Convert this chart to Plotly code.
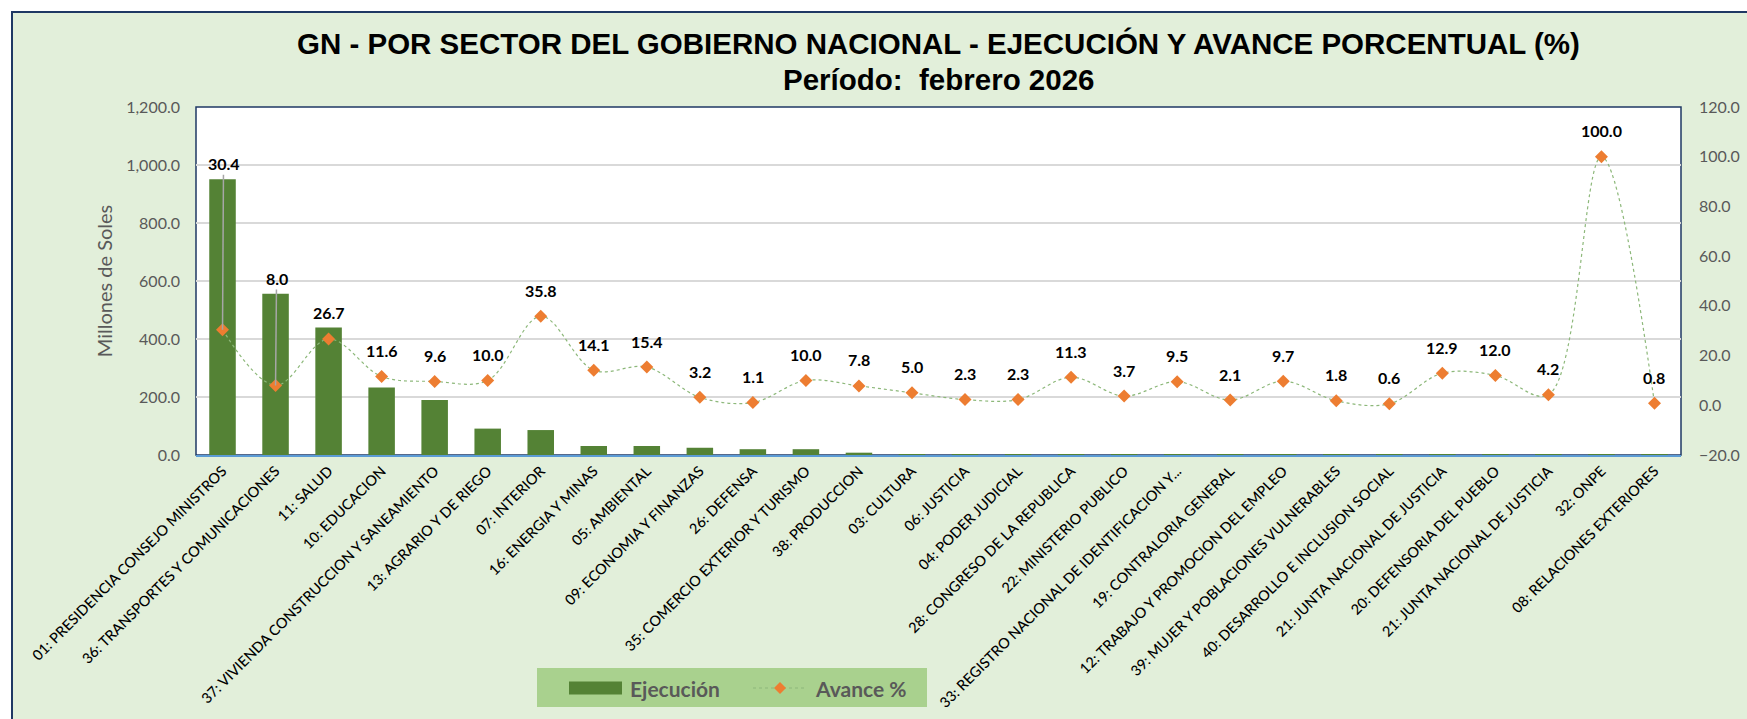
import plotly.graph_objects as go

categories = [
    "01: PRESIDENCIA CONSEJO MINISTROS",
    "36: TRANSPORTES Y COMUNICACIONES",
    "11: SALUD",
    "10: EDUCACION",
    "37: VIVIENDA CONSTRUCCION Y SANEAMIENTO",
    "13: AGRARIO Y DE RIEGO",
    "07: INTERIOR",
    "16: ENERGIA Y MINAS",
    "05: AMBIENTAL",
    "09: ECONOMIA Y FINANZAS",
    "26: DEFENSA",
    "35: COMERCIO EXTERIOR Y TURISMO",
    "38: PRODUCCION",
    "03: CULTURA",
    "06: JUSTICIA",
    "04: PODER JUDICIAL",
    "28: CONGRESO DE LA REPUBLICA",
    "22: MINISTERIO PUBLICO",
    "33: REGISTRO NACIONAL DE IDENTIFICACION Y...",
    "19: CONTRALORIA GENERAL",
    "12: TRABAJO Y PROMOCION DEL EMPLEO",
    "39: MUJER Y POBLACIONES VULNERABLES",
    "40: DESARROLLO E INCLUSION SOCIAL",
    "21: JUNTA NACIONAL DE JUSTICIA",
    "20: DEFENSORIA DEL PUEBLO",
    "21: JUNTA NACIONAL DE JUSTICIA",
    "32: ONPE",
    "08: RELACIONES EXTERIORES",
]

ejecucion = [951, 556, 440, 233, 190, 91, 86, 31, 31, 25, 20, 20, 8,
             3.0, 2.5, 2.5, 2.0, 1.8, 1.5, 1.2, 1.1, 1.0, 0.8, 0.7, 0.6, 0.5, 0.4, 0.3]

avance = [30.4, 8.0, 26.7, 11.6, 9.6, 10.0, 35.8, 14.1, 15.4, 3.2, 1.1, 10.0, 7.8,
          5.0, 2.3, 2.3, 11.3, 3.7, 9.5, 2.1, 9.7, 1.8, 0.6, 12.9, 12.0, 4.2, 100.0, 0.8]

series_names = ["Ejecución", "Avance %"]
title_line1 = "GN - POR SECTOR DEL GOBIERNO NACIONAL - EJECUCIÓN Y AVANCE PORCENTUAL (%)"
title_line2 = "Período:  febrero 2026"
y_title = "Millones de Soles"
y2_title = "Porcentaje"

W, H = 1747, 719
L, R, T, B = 196, 1681, 107, 455
pw, ph = R - L, B - T


def px_x(p):
    return (p - L) / pw


def px_y(p):
    return (B - p) / ph


BAR_COLOR = "#548235"
LINE_COLOR = "#8DB87A"
MARKER_COLOR = "#ED7D31"
LEGEND_BG = "#A9D18E"
GRAY = "#595959"

xs = list(range(len(categories)))

fig = go.Figure()
fig.add_trace(go.Bar(
    x=xs, y=ejecucion, name=series_names[0],
    marker=dict(color=BAR_COLOR, line=dict(width=0)),
    yaxis="y", showlegend=False,
))
fig.add_trace(go.Scatter(
    x=xs, y=avance, name=series_names[1], yaxis="y2",
    mode="lines+markers",
    line=dict(color=LINE_COLOR, width=1.2, dash="dot", shape="spline", smoothing=1),
    marker=dict(symbol="diamond", size=10, color=MARKER_COLOR),
    showlegend=False,
))

# data labels (first two use leader lines like the original)
leaders = {0: -166, 1: -107}
annotations = []
label_font = dict(family="Lato", size=16, color="#000000")
for i, v in enumerate(avance):
    if i in leaders:
        annotations.append(dict(
            x=i, y=v, xref="x", yref="y2", text=f"<b>{v:.1f}</b>",
            showarrow=True, arrowhead=0, arrowwidth=1.5, arrowcolor="#A6A6A6",
            ax=1, ay=leaders[i], standoff=0, font=label_font,
        ))
    else:
        annotations.append(dict(
            x=i, y=v, xref="x", yref="y2", text=f"<b>{v:.1f}</b>",
            showarrow=False, yshift=26, font=label_font,
        ))

title_font = dict(family="Liberation Sans", size=29.5, color="#000000")
annotations.append(dict(
    x=0.5, y=px_y(44), xref="paper", yref="paper", text=f"<b>{title_line1}</b>",
    showarrow=False, xanchor="center", yanchor="middle", font=title_font,
))
annotations.append(dict(
    x=0.5, y=px_y(79), xref="paper", yref="paper", text=f"<b>{title_line2}</b>",
    showarrow=False, xanchor="center", yanchor="middle", font=title_font,
))

# secondary axis title: sits at the right edge, mostly outside, as in the original
annotations.append(dict(
    x=px_x(1744), y=0.5, xref="paper", yref="paper", text=y2_title,
    showarrow=False, xanchor="left", yanchor="middle", textangle=-90,
    font=dict(family="Lato", size=20, color=GRAY),
))

# legend (drawn like the Excel legend box)
leg_font = dict(family="Lato", size=21, color=GRAY)
leg_cy = px_y(688)
annotations.append(dict(
    x=px_x(628), y=leg_cy, xref="paper", yref="paper", text=f"<b>{series_names[0]}</b>",
    showarrow=False, xanchor="left", yanchor="middle", font=leg_font,
))
annotations.append(dict(
    x=px_x(813), y=leg_cy, xref="paper", yref="paper", text=f"<b>{series_names[1]}</b>",
    showarrow=False, xanchor="left", yanchor="middle", font=leg_font,
))

shapes = [
    # chart area background and border
    dict(type="rect", xref="paper", yref="paper", layer="below",
         x0=px_x(12), x1=px_x(1770), y0=px_y(740), y1=px_y(12),
         fillcolor="#E2EFDA", line=dict(color="#1F3864", width=2)),
    # plot area
    dict(type="rect", xref="paper", yref="paper", layer="below",
         x0=0, x1=1, y0=0, y1=1,
         fillcolor="#FFFFFF", line=dict(color="#1F3864", width=1.5)),
    # legend box
    dict(type="rect", xref="paper", yref="paper", layer="above",
         x0=px_x(537), x1=px_x(927), y0=px_y(707), y1=px_y(668),
         fillcolor=LEGEND_BG, line=dict(width=0)),
    dict(type="rect", xref="paper", yref="paper", layer="above",
         x0=px_x(569), x1=px_x(622), y0=px_y(694.5), y1=px_y(681.5),
         fillcolor=BAR_COLOR, line=dict(width=0)),
    dict(type="line", xref="paper", yref="paper", layer="above",
         x0=px_x(753), x1=px_x(806), y0=leg_cy, y1=leg_cy,
         line=dict(color=LINE_COLOR, width=1.2, dash="dot")),
    dict(type="path", xref="paper", yref="paper", layer="above",
         xsizemode="pixel", ysizemode="pixel", xanchor=px_x(780), yanchor=leg_cy,
         path="M0,6 L6,0 L0,-6 L-6,0 Z",
         fillcolor=MARKER_COLOR, line=dict(width=0)),
]

fig.update_layout(
    width=W, height=H,
    margin=dict(l=L, r=W - R, t=T, b=H - B, autoexpand=False),
    paper_bgcolor="#FFFFFF", plot_bgcolor="rgba(0,0,0,0)",
    bargap=0.5,
    font=dict(family="Lato", color=GRAY),
    shapes=shapes,
    annotations=annotations,
    showlegend=False,
    xaxis=dict(
        tickmode="array", tickvals=xs, ticktext=categories, tickangle=-45,
        range=[-0.5, len(categories) - 0.5],
        showline=True, linecolor="#5B9BD5", linewidth=2, ticks="",
        showgrid=False, zeroline=False,
        tickfont=dict(family="Lato", size=14.5, color="#000000", weight=500),
    ),
    yaxis=dict(
        range=[0, 1200], dtick=200, tickformat=",.1f",
        showgrid=True, gridcolor="#D9D9D9", gridwidth=1.5, zeroline=False,
        tickfont=dict(family="Lato", size=16, color=GRAY),
        ticklabelstandoff=15,
        title=dict(text=y_title, standoff=8,
                   font=dict(family="Lato", size=20, color=GRAY)),
    ),
    yaxis2=dict(
        range=[-20, 120], dtick=20, tickformat=".1f", overlaying="y", side="right",
        showgrid=False, zeroline=False,
        tickfont=dict(family="Lato", size=16, color=GRAY),
        ticklabelstandoff=17,
    ),
)

fig.write_html(
    "out.html",
    config={"displayModeBar": False},
    post_script="document.body.style.margin='0';document.body.style.overflow='hidden';",
)
